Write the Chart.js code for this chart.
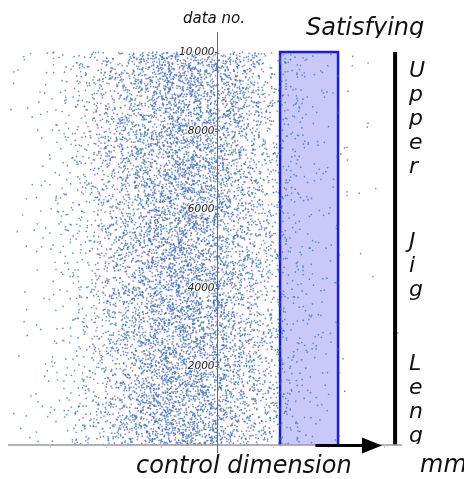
<!DOCTYPE html>
<html>
<head>
<meta charset="utf-8">
<script src="https://cdn.jsdelivr.net/npm/chart.js@4/dist/chart.umd.min.js"></script>
<style>
  html, body { margin: 0; padding: 0; background: #fff; }
  canvas { display: block; }
</style>
</head>
<body>
<canvas id="chart" width="464" height="479"></canvas>
<script>
// control dimension scatter (data no. vs measured value)

// x range of the plot, in units of the control dimension
const xRange = [-3.716, 3.32];
const yRange = [0, 10510];

// the 10000 single points cannot be read one by one: the picture gives how many
// fall in each strip of width 0.25, so these counts are what was read off it
const binStart = [-3.75, -3.5, -3.25, -3.0, -2.75, -2.5, -2.25, -2.0, -1.75, -1.5,
                  -1.25, -1.0, -0.75, -0.5, -0.25, 0.0, 0.25, 0.5, 0.75, 1.0,
                  1.25, 1.5, 1.75, 2.0, 2.25, 2.5, 2.75, 3.0];
const binCounts = [8, 18, 36, 68, 118, 192, 292, 418, 562, 712,
                   845, 980, 1025, 1010, 895, 778, 636, 490, 355, 250,
                   140, 80, 48, 26, 10, 5, 2, 1];
const binWidth = 0.25;

const yTicks = [2000, 4000, 6000, 8000, 10000];
const yTickLabels = ['2000', '4000', '6000', '8000', '10\u2009000'];
const xTicks = [-3, -2, -1, 0, 1, 2, 3];

const satisfyingBand = [1.131, 2.172];   // shaded range
const bandTop = 10000;
const upperJigLength = 3.196;            // black limit line
const arrowFrom = 1.765, arrowTo = 2.96; // arrow along the axis

// spread each strip's count over its strip, in a fixed (seeded) order
let seed = 20240611;
function rnd() {
  seed = (seed * 16807) % 2147483647;
  return (seed - 1) / 2147483646;
}
const values = [];
binCounts.forEach((n, i) => {
  for (let k = 0; k < n; k++) values.push(binStart[i] + rnd() * binWidth);
});
for (let i = values.length - 1; i > 0; i--) {
  const j = Math.floor(rnd() * (i + 1));
  const t = values[i]; values[i] = values[j]; values[j] = t;
}
const points = values.map((v, i) => ({ x: v, y: i + 1 }));

const FONT = '"DejaVu Sans", Verdana, sans-serif';

const decor = {
  id: 'decor',
  afterDatasetsDraw(chart) {
    const { ctx, scales: { x, y } } = chart;
    const x0 = x.getPixelForValue(0);
    const y0 = y.getPixelForValue(0);
    ctx.save();

    // x axis
    ctx.strokeStyle = '#9a9a9a';
    ctx.lineWidth = 1.5;
    ctx.beginPath();
    ctx.moveTo(x.getPixelForValue(xRange[0]) - 2, y0);
    ctx.lineTo(x.getPixelForValue(xRange[1]), y0);
    ctx.stroke();
    ctx.lineWidth = 1;
    ctx.strokeStyle = '#c4c4c4';
    xTicks.forEach(v => {
      const px = Math.round(x.getPixelForValue(v)) + 0.5;
      ctx.beginPath();
      ctx.moveTo(px, y0 - 1);
      ctx.lineTo(px, y0 + 3);
      ctx.stroke();
    });

    // y axis
    ctx.strokeStyle = '#6a6a6a';
    ctx.lineWidth = 1;
    const ax = Math.round(x0) + 0.5;
    ctx.beginPath();
    ctx.moveTo(ax, y0 + 8);
    ctx.lineTo(ax, y.getPixelForValue(yRange[1]));
    ctx.stroke();

    // y ticks and labels
    ctx.font = 'italic 10.5px ' + FONT;
    ctx.textAlign = 'right';
    ctx.textBaseline = 'middle';
    yTicks.forEach((v, i) => {
      const py = Math.round(y.getPixelForValue(v)) + 0.5;
      ctx.strokeStyle = '#6a6a6a';
      ctx.beginPath();
      ctx.moveTo(ax - 3, py);
      ctx.lineTo(ax, py);
      ctx.stroke();
      ctx.strokeStyle = 'rgba(255,255,255,0.85)';
      ctx.lineWidth = 2.5;
      ctx.strokeText(yTickLabels[i], ax - 3, py);
      ctx.lineWidth = 1;
      ctx.fillStyle = '#222';
      ctx.fillText(yTickLabels[i], ax - 3, py);
    });

    // arrow on the axis
    const ax1 = x.getPixelForValue(arrowFrom);
    const ax2 = x.getPixelForValue(arrowTo);
    ctx.strokeStyle = '#000';
    ctx.fillStyle = '#000';
    ctx.lineWidth = 3;
    ctx.beginPath();
    ctx.moveTo(ax1, y0 + 0.5);
    ctx.lineTo(ax2 - 18, y0 + 0.5);
    ctx.stroke();
    ctx.beginPath();
    ctx.moveTo(ax2, y0 + 0.5);
    ctx.lineTo(ax2 - 20, y0 - 7.5);
    ctx.lineTo(ax2 - 20, y0 + 8.5);
    ctx.closePath();
    ctx.fill();
    ctx.restore();
  },
  afterDraw(chart) {
    const ctx = chart.ctx;
    ctx.save();
    ctx.fillStyle = '#111';
    ctx.textAlign = 'left';
    ctx.textBaseline = 'alphabetic';

    ctx.font = 'italic 15px ' + FONT;
    ctx.fillText('data no.', 183, 23);

    ctx.save();
    ctx.beginPath();
    ctx.rect(0, 0, 464, 38);
    ctx.clip();
    ctx.font = 'italic 24px ' + FONT;
    ctx.fillText('Satisfying', 306, 35);
    ctx.restore();

    ctx.font = 'italic 24px ' + FONT;
    ctx.fillText('control dimension', 136, 473);
    ctx.fillText('mm', 420, 472);

    // vertical caption, one letter per line
    ctx.save();
    ctx.beginPath();
    ctx.rect(0, 0, 464, 444);
    ctx.clip();
    ctx.font = 'italic 22px ' + FONT;
    [['Upper', 77], ['Jig', 248], ['Leng', 370]].forEach(([word, base]) => {
      [...word].forEach((ch, k) => ctx.fillText(ch, 409, base + k * 24));
    });
    ctx.restore();

    ctx.restore();
  }
};

new Chart(document.getElementById('chart'), {
  type: 'scatter',
  data: {
    datasets: [
      {
        label: 'data',
        data: points,
        order: 0,
        pointRadius: 0.85,
        pointBorderWidth: 0,
        pointBackgroundColor: 'rgba(66,106,188,0.75)',
        borderWidth: 0
      },
      {
        type: 'line',
        label: 'satisfying',
        data: [
          { x: satisfyingBand[0], y: 0 },
          { x: satisfyingBand[0], y: bandTop },
          { x: satisfyingBand[1], y: bandTop },
          { x: satisfyingBand[1], y: 0 }
        ],
        order: 1,
        borderColor: '#1a1aee',
        borderWidth: 2.5,
        backgroundColor: '#c9c9f9',
        fill: 'origin',
        pointRadius: 0,
        tension: 0
      },
      {
        type: 'line',
        label: 'upper jig length',
        data: [{ x: upperJigLength, y: 0 }, { x: upperJigLength, y: bandTop }],
        order: 1,
        borderColor: '#000',
        borderWidth: 4,
        pointRadius: 0,
        fill: false
      }
    ]
  },
  options: {
    responsive: false,
    animation: false,
    events: [],
    layout: { padding: { left: 10, right: 62, top: 32, bottom: 34 } },
    scales: {
      x: { type: 'linear', min: xRange[0], max: xRange[1], display: false },
      y: { type: 'linear', min: yRange[0], max: yRange[1], display: false }
    },
    plugins: { legend: { display: false }, tooltip: { enabled: false } }
  },
  plugins: [decor]
});
</script>
</body>
</html>
